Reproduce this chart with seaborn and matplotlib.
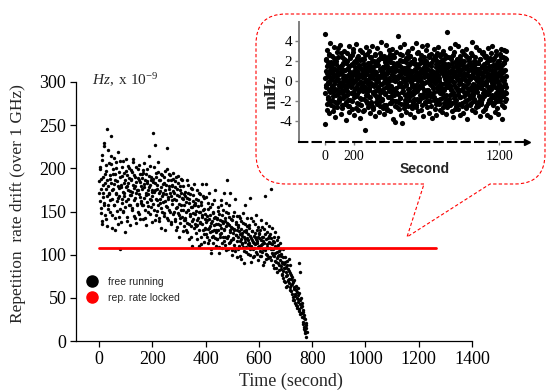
import numpy as np
import pandas as pd
import matplotlib
matplotlib.use("Agg")
import matplotlib.pyplot as plt
import seaborn as sns
from matplotlib.path import Path
from matplotlib.patches import PathPatch
from matplotlib.lines import Line2D

# ---------------- data ----------------
# free-running repetition-rate drift (Hz x 1e-9), samples at even seconds
drift = [
    185, 162, 201, 148, 176, 210, 135, 190, 172, 226, 158, 183, 197, 141, 168, 245, 180, 153, 206, 171,
    188, 163, 214, 238, 146, 175, 199, 157, 182, 128, 193, 170, 207, 151, 185, 166, 219, 177, 144, 190,
    106, 181, 160, 202, 173, 149, 195, 168, 186, 155, 211, 178, 139, 192, 165, 183, 200, 158, 174, 188,
    169, 196, 152, 181, 207, 163, 177, 142, 190, 171, 184, 158, 199, 175, 147, 186, 167, 193, 160, 180,
    176, 189, 157, 198, 166, 182, 143, 172, 194, 161, 185, 170, 150, 191, 178, 164, 203, 155, 187, 173,
    168, 241, 184, 152, 227, 175, 190, 146, 163, 181, 158, 196, 172, 139, 187, 165, 178, 154, 192, 170,
    161, 183, 148, 175, 197, 156, 170, 224, 143, 186, 164, 179, 152, 192, 168, 135, 181, 159, 174, 188,
    150, 172, 141, 185, 163, 128, 176, 155, 191, 146, 168, 137, 180, 158, 171, 144, 186, 152, 165, 133,
    157, 140, 173, 149, 126, 166, 152, 181, 135, 160, 145, 170, 120, 155, 139, 176, 148, 162, 131, 158,
    147, 133, 165, 140, 118, 156, 142, 172, 129, 150, 137, 161, 112, 146, 135, 168, 124, 153, 141, 130,
    138, 182, 121, 145, 130, 160, 117, 141, 133, 155, 106, 139, 127, 148, 122, 163, 134, 119, 144, 129,
    126, 143, 118, 151, 135, 109, 140, 124, 158, 131, 114, 146, 137, 120, 172, 128, 139, 111, 149, 133,
    186, 122, 136, 113, 144, 128, 171, 117, 132, 105, 140, 125, 119, 150, 130, 108, 138, 123, 145, 116,
    121, 134, 110, 127, 98, 142, 118, 130, 112, 125, 137, 104, 120, 158, 115, 128, 109, 133, 119, 101,
    124, 113, 131, 106, 166, 119, 110, 127, 97, 115, 122, 108, 136, 112, 118, 103, 129, 116, 94, 121,
    110, 125, 104, 117, 99, 132, 112, 107, 120, 91, 114, 168, 105, 118, 101, 126, 109, 96, 115, 122,
    108, 97, 119, 176, 102, 112, 88, 106, 99, 115, 93, 110, 85, 103, 96, 121, 90, 100, 82, 107,
    94, 83, 101, 78, 90, 73, 97, 85, 68, 92, 80, 75, 88, 64, 83, 71, 95, 67, 79, 62,
    72, 58, 66, 51, 69, 60, 47, 63, 55, 42, 59, 50, 38, 53, 45, 90, 35, 48, 80, 33,
    40, 28, 34, 20, 30, 16, 25, 12, 18, 5,
]
# free-running drift, samples at odd seconds
drift_odd = [
    172, 199, 154, 188, 139, 215, 167, 181, 229, 160, 193, 146, 176, 204, 133, 186, 158, 221, 170, 192,
    149, 183, 205, 165, 131, 194, 176, 212, 158, 187, 143, 171, 200, 162, 180, 136, 196, 168, 153, 209,
    178, 138, 191, 164, 208, 151, 183, 171, 126, 197, 162, 180, 144, 203, 175, 157, 189, 134, 169, 198,
    186, 154, 173, 211, 145, 192, 166, 180, 137, 201, 159, 175, 189, 150, 170, 204, 141, 184, 162, 193,
    158, 195, 141, 178, 206, 152, 187, 169, 134, 183, 199, 156, 175, 214, 147, 181, 163, 190, 138, 175,
    188, 159, 173, 201, 140, 183, 165, 195, 151, 176, 207, 143, 186, 160, 174, 131, 193, 168, 149, 182,
    172, 145, 190, 162, 128, 181, 155, 199, 167, 140, 176, 193, 150, 171, 186, 138, 163, 180, 147, 195,
    165, 139, 178, 154, 190, 132, 169, 148, 183, 121, 159, 175, 143, 188, 152, 166, 127, 179, 140, 170,
    143, 168, 129, 161, 186, 137, 152, 171, 118, 164, 147, 133, 177, 155, 110, 169, 141, 158, 182, 136,
    160, 125, 151, 175, 134, 163, 110, 149, 138, 170, 121, 157, 144, 182, 128, 152, 166, 115, 147, 131,
    124, 167, 140, 113, 153, 131, 171, 126, 146, 102, 137, 159, 120, 150, 113, 142, 128, 175, 135, 110,
    141, 118, 155, 128, 102, 147, 134, 120, 163, 125, 139, 108, 152, 130, 116, 143, 121, 160, 105, 137,
    119, 148, 107, 134, 157, 115, 126, 141, 100, 131, 118, 145, 111, 128, 164, 104, 123, 136, 97, 129,
    132, 107, 145, 116, 124, 139, 95, 122, 113, 148, 109, 127, 90, 135, 118, 103, 126, 143, 112, 117,
    111, 134, 100, 122, 142, 92, 117, 127, 106, 139, 113, 98, 125, 120, 146, 101, 114, 132, 109, 124,
    119, 98, 128, 111, 140, 103, 121, 88, 116, 130, 106, 124, 95, 137, 112, 100, 119, 108, 133, 97,
    113, 124, 94, 107, 131, 100, 116, 84, 120, 102, 126, 91, 109, 117, 80, 111, 98, 104, 88, 114,
    87, 99, 76, 92, 106, 81, 89, 70, 97, 84, 63, 86, 77, 93, 69, 81, 72, 88, 59, 76,
    65, 74, 55, 68, 47, 62, 71, 52, 44, 64, 57, 40, 61, 49, 37, 56, 43, 31, 50, 39,
    32, 44, 22, 36, 14, 27, 9, 21, 15, 11,
]

# locked repetition rate level
lock_t = [0, 1265]
lock_y = [108, 108]

# locked residual (mHz), samples every 2.5 s
residual = [
    4.7, -4.3, 1.0, -0.6, 2.2, -2.9, 0.4, 3.1, -1.8, 1.6, -0.2, 2.7, -3.2, 0.9, -1.1, 3.8, -2.4, 0.1, 1.9, -0.8,
    2.5, -1.5, 0.7, -3.0, 3.4, -0.3, 1.2, -2.1, 2.0, -3.6, 0.5, 1.7, -0.9, 2.9, -2.6, 0.2, -1.3, 3.3, -0.5, 1.4,
    -2.0, 0.8, 3.6, -1.0, -3.3, 1.5, -0.1, 2.4, -2.7, 0.6, 1.1, -1.7, 3.0, -0.4, 0.3, -2.3, 2.1, -3.9, 1.8, -0.7,
    0.0, 2.8, -1.4, 1.3, -2.5, 3.5, -0.2, -3.1, 0.9, 2.3, -1.9, 0.4, 1.6, -0.6, -2.8, 2.6, -1.2, 3.2, 0.1, -1.6,
    1.9, -3.4, 0.6, 2.0, -0.8, -1.5, 3.7, -2.2, 0.3, 1.0, -0.3, 2.5, -2.9, 1.4, -1.0, 0.7, 3.1, -3.7, 0.5, -0.1,
    -2.4, 1.2, 2.9, -0.5, 0.8, -3.0, 1.7, -1.8, 2.2, -4.9, 0.2, -0.9, 3.4, -2.0, 1.1, -1.3, 0.0, 2.7, -2.6, 1.5,
    3.0, -0.7, -1.6, 1.8, -3.2, 0.4, 2.4, -0.2, -2.3, 1.3, 3.5, -1.1, 0.6, -2.8, 2.0, -0.4, 1.0, -3.5, 2.6, -1.4,
    0.9, -2.1, 3.3, 0.1, -1.7, 2.1, -0.6, 1.6, -3.1, 0.5, -1.0, 2.8, -2.5, 1.2, 3.9, -0.3, -1.9, 0.7, 2.3, -2.7,
    -0.8, 1.4, -3.3, 2.5, 0.3, -1.2, 1.9, -2.4, 3.6, -0.1, 0.8, -2.9, 1.5, -0.7, 2.2, -1.6, 0.0, 3.1, -3.0, 1.1,
    2.7, -0.5, 1.3, -2.2, 0.6, 3.2, -1.4, -3.8, 1.8, -0.9, 2.4, 0.2, -2.0, 1.0, -4.1, 2.9, -1.1, 0.4, -2.6, 1.7,
    -1.3, 4.5, 0.5, -2.8, 1.6, -0.2, 2.1, -1.7, 3.4, -3.4, 0.9, -0.6, 2.6, -4.2, 1.2, -1.0, 0.3, 2.0, -2.3, 3.7,
    0.1, -1.9, 2.3, -0.4, -3.1, 1.4, 2.8, -1.5, 0.7, -2.5, 3.0, -0.8, 1.1, -3.3, 0.4, 2.5, -1.2, -0.1, 1.9, -2.7,
    3.3, -0.3, -2.1, 1.0, 0.2, -3.6, 2.2, -1.1, 1.7, -0.7, 3.8, -2.4, 0.6, 1.5, -1.8, 0.0, 2.9, -3.0, 0.8, -0.5,
    -2.0, 1.8, 0.3, -1.4, 2.6, -2.9, 0.9, 3.5, -0.6, -1.6, 1.3, -3.5, 2.0, -0.2, 0.5, -2.2, 1.6, 3.1, -1.0, 0.7,
    1.2, -2.6, 3.6, -0.9, 0.4, -1.3, 2.4, -3.2, 1.0, 0.1, -2.0, 2.7, -0.4, 1.5, -3.7, 0.8, -1.5, 2.1, -0.7, 3.2,
    -1.1, 0.6, -2.8, 2.3, -0.1, 1.7, -3.4, 0.3, 2.8, -1.9, 1.1, -0.5, 3.4, -2.3, 0.0, 1.9, -1.2, -2.9, 2.5, -0.3,
    0.9, -1.7, 2.0, -3.1, 1.3, 3.0, -0.8, 0.5, -2.2, 1.6, -0.2, 2.6, -3.3, 0.7, -1.4, 4.9, 0.2, -2.6, 1.4, -0.6,
    2.4, -0.4, -1.8, 0.8, 3.3, -2.4, 1.0, -0.9, 2.2, -3.0, 0.4, 1.8, -1.3, -3.6, 2.9, -0.1, 0.6, -2.1, 3.7, -1.5,
    -0.7, 1.5, -2.5, 0.3, 2.1, -1.0, 3.5, -2.8, 0.9, -0.3, 1.2, -3.4, 2.5, -1.6, 0.1, 1.7, -2.2, 3.0, -0.8, 0.5,
    1.9, -3.2, 0.7, -1.1, 2.7, -0.5, 1.4, -2.7, 0.0, 3.2, -1.9, 0.6, -3.8, 2.3, -0.2, 1.1, -1.4, 2.0, -2.4, 0.3,
    -1.6, 2.8, -0.6, 1.3, -2.9, 0.4, 3.9, -1.2, 0.8, -2.0, 1.6, -0.4, 2.4, -3.1, 1.0, -0.9, 0.2, 3.4, -2.3, 1.2,
    0.6, -2.5, 1.8, -0.1, -1.5, 3.1, -3.5, 0.9, 2.2, -0.7, -2.1, 1.4, 0.3, -1.8, 2.9, -3.0, 0.5, 1.7, -0.3, 2.6,
    -2.8, 1.1, 0.0, 2.5, -1.3, -3.4, 1.9, -0.5, 3.3, -2.2, 0.7, 1.5, -1.0, 2.1, -3.6, 0.4, -0.8, 2.8, -1.7, 1.0,
    3.5, -0.2, -2.4, 1.6, 0.2, -1.6, 2.3, -3.1, 0.8, -0.6, 3.0, -1.9, 1.3, -2.7, 0.5, 2.0, -0.9, -3.3, 1.7, -0.4,
    0.9, -2.0, 2.7, -1.2, 3.2, -0.7, 1.1, -3.8, 0.4, 2.4, -1.5, 0.0, 3.1, -2.6, 1.8, -0.3, -1.1, 2.2, -1.8, 3.0,
]
# locked residual (mHz), samples offset by 1.25 s
residual_mid = [
    0.3, -1.2, 2.1, -0.4, 1.5, -2.3, 0.8, -0.1, 1.9, -1.6, 0.5, 2.6, -0.9, 1.1, -2.0, 0.2, -0.7, 1.4, -1.9, 0.9,
    -0.5, 1.7, -1.1, 0.4, 2.3, -2.6, 0.0, 1.2, -0.8, 2.0, -1.4, 0.6, -2.2, 1.0, 0.1, -1.0, 2.4, -0.3, 0.7, -1.8,
    1.3, -0.2, -1.7, 0.9, 2.8, -0.6, 1.6, -2.4, 0.3, -1.3, 1.8, 0.0, -0.9, 2.2, -1.5, 0.5, 1.1, -2.1, 0.4, -0.4,
    -1.0, 2.0, 0.6, -1.9, 1.2, -0.3, -2.5, 1.5, 0.2, 2.5, -1.2, 0.8, -0.5, 1.7, -2.0, 0.1, 2.9, -1.1, -0.2, 1.0,
    0.7, -1.5, 1.4, 0.0, -2.7, 1.9, -0.6, 0.9, -1.3, 2.3, 0.3, -0.8, 1.6, -2.3, 0.6, -0.1, 2.1, -1.7, 1.2, -0.7,
    -1.8, 0.4, 2.2, -1.0, 0.8, -0.2, 1.7, -2.9, 0.5, 1.3, -0.6, 2.6, -1.4, 0.0, 1.0, -2.2, 0.7, -0.9, 1.8, -0.3,
    1.1, -0.9, 0.2, 2.4, -1.6, 0.6, -2.1, 1.4, -0.4, 0.9, 2.0, -1.2, 0.3, -2.6, 1.5, -0.5, 0.8, 2.7, -1.0, 0.1,
    -0.2, 1.6, -2.3, 0.5, 1.9, -0.7, 0.0, -1.5, 2.2, -0.9, 1.2, -2.0, 0.4, 1.0, -1.1, 2.5, -0.3, -1.8, 0.7, 1.4,
    0.9, -0.1, 1.3, -2.4, 0.6, 2.1, -1.3, 0.2, -0.6, 1.7, -2.8, 0.8, 1.1, -0.4, 2.4, -1.6, 0.3, -1.0, 1.9, -2.2,
    -0.6, 2.3, -1.0, 0.7, -1.9, 1.0, 0.1, -0.8, 2.6, -1.4, 0.5, 1.5, -2.5, 0.0, 1.2, -0.7, -2.0, 1.8, 0.4, -1.2,
    1.6, -2.1, 0.3, 1.0, -0.5, 2.7, -1.7, 0.6, -0.2, 1.4, -2.3, 0.9, 2.0, -1.1, 0.2, -0.6, 1.3, -2.7, 0.8, 0.0,
    -1.4, 0.8, 1.9, -0.3, -2.2, 1.1, 0.4, -1.2, 2.3, -0.8, 0.1, 1.6, -1.9, 0.7, 2.5, -1.5, 0.0, 1.0, -0.5, -2.4,
    0.5, 1.8, -1.3, 0.2, 2.1, -0.9, -1.8, 1.2, 0.6, -2.6, 1.7, -0.4, 0.9, -1.0, 2.8, -2.0, 0.3, 1.4, -0.7, 0.6,
    2.2, -0.6, 0.7, -1.7, 1.1, 0.0, -2.4, 1.9, -0.2, 1.0, -1.3, 2.4, -0.9, 0.4, -2.1, 1.3, 0.8, -1.6, 2.0, -0.1,
    -0.9, 1.2, -2.0, 0.6, 1.7, -1.1, 0.2, 2.6, -1.5, 0.5, -0.3, 1.8, -2.5, 1.0, 0.1, -1.4, 2.2, -0.6, 0.9, -1.9,
    0.4, -1.6, 2.5, -0.2, 0.9, -2.3, 1.4, -0.7, 0.0, 2.0, -1.0, 0.6, 1.5, -2.2, 0.3, 1.1, -0.5, -1.8, 2.7, -0.8,
    1.5, -0.3, -1.2, 2.1, -2.6, 0.7, 1.0, -0.9, 1.8, -1.5, 0.2, 2.3, -0.6, -1.9, 1.3, 0.5, -2.4, 0.9, -0.1, 1.7,
    -2.1, 0.9, 1.6, -0.5, 0.3, -1.4, 2.4, -0.8, 1.1, -2.2, 0.0, 1.4, -1.1, 2.6, -0.4, 0.7, -1.7, 1.9, -2.8, 0.4,
    1.0, -1.9, 0.5, 2.2, -0.7, -1.3, 1.5, 0.1, -2.3, 1.8, -0.2, 0.8, -1.6, 2.1, 0.6, -0.9, 1.2, -2.5, 0.3, 1.6,
    -0.4, 2.0, -1.5, 0.8, 1.3, -2.0, 0.2, -0.6, 2.5, -1.2, 0.7, -2.4, 1.6, 0.0, -1.0, 2.3, -0.8, 1.1, -1.7, 0.5,
    0.2, -2.2, 1.7, -0.9, 0.6, 2.6, -1.4, 1.0, -0.3, -1.8, 2.0, 0.4, -0.7, 1.3, -2.6, 0.9, 1.9, -1.1, 0.0, -0.5,
    1.8, -0.6, 0.3, -2.0, 1.2, -0.1, 2.2, -1.6, 0.8, 0.0, -2.3, 1.5, -0.4, 2.8, -1.2, 0.5, -0.9, 1.0, -1.5, 2.4,
    -1.1, 1.4, -0.2, 0.9, -2.5, 1.9, 0.4, -1.3, 0.7, 2.1, -0.8, -1.9, 1.2, 0.1, -0.6, 2.3, -2.1, 0.6, 1.5, -1.4,
    0.6, -0.4, 2.1, -1.6, 0.3, 1.1, -2.2, 0.8, -0.1, 1.7, -1.2, 2.6, -0.7, 0.4, -2.0, 1.4, 0.0, -1.5, 2.0, -0.3,
    -1.7, 0.7, 1.3, -0.8, 2.4, -1.0, 0.2, -2.4, 1.6, -0.5, 0.9, 1.9, -1.3, 0.1, -2.0, 1.1, 2.3, -0.6, 0.5, -1.2,
]

main_xticks = [0, 200, 400, 600, 800, 1000, 1200, 1400]
main_yticks = [0, 50, 100, 150, 200, 250, 300]
inset_xticks = [0, 200, 1200]
inset_yticks = [-4, -2, 0, 2, 4]
legend_labels = ["free running", "rep. rate locked"]

# ---------------- style ----------------
sns.set_style("ticks")
plt.rcParams["font.family"] = ["Liberation Serif", "DejaVu Serif"]
plt.rcParams["mathtext.fontset"] = "custom"
plt.rcParams["mathtext.rm"] = "Liberation Serif"
plt.rcParams["mathtext.it"] = "Liberation Serif:italic"
plt.rcParams["axes.unicode_minus"] = False

W, H = 547, 390
fig = plt.figure(figsize=(W / 100, H / 100), dpi=100)

# ---------------- main axes ----------------
ax = fig.add_axes([76 / W, 49 / H, 396 / W, 259 / H])
free = pd.DataFrame({
    "t": np.concatenate([np.arange(len(drift)) * 2, np.arange(len(drift_odd)) * 2 + 1]),
    "drift": drift + drift_odd,
})
sns.scatterplot(data=free, x="t", y="drift", ax=ax, color="black", s=6,
                linewidth=0, legend=False, zorder=2)
sns.lineplot(x=lock_t, y=lock_y, ax=ax, color="red", linewidth=2, zorder=3)
ax.set_xlim(-87, 1400)
ax.set_ylim(0, 300)
ax.set_xticks(main_xticks)
ax.set_yticks(main_yticks)
ax.set_xlabel("")
ax.set_ylabel("")
sns.despine(ax=ax)
for s in ["left", "bottom"]:
    ax.spines[s].set_color("black")
    ax.spines[s].set_linewidth(0.9)
ax.tick_params(direction="out", length=4, width=0.9, labelsize=13,
               colors="black", pad=3)

fig.text(291 / W, 1 - 381 / H, "Time (second)", ha="center", va="center",
         fontsize=13)
fig.text(18 / W, 1 - 204 / H, "Repetition  rate drift (over 1 GHz)",
         rotation=90, ha="center", va="center", fontsize=12.5)
fig.text(92 / W, 1 - 80 / H, r"$\mathit{Hz},\ \mathrm{x}\ 10^{-9}$",
         ha="left", va="center", fontsize=11)

handles = [
    Line2D([], [], marker="o", linestyle="", color="black", markersize=8),
    Line2D([], [], marker="o", linestyle="", color="red", markersize=8),
]
ax.legend(handles, legend_labels, loc="center left",
          bbox_to_anchor=(86.8 / W, 1 - 290 / H), bbox_transform=fig.transFigure,
          frameon=False, borderpad=0, borderaxespad=0, handlelength=1.0,
          handletextpad=1.0, labelspacing=0.55,
          prop={"family": "Liberation Sans", "size": 7.5})

# ---------------- callout bubble ----------------
bg = fig.add_axes([0, 0, 1, 1], zorder=5)
bg.set_xlim(0, W)
bg.set_ylim(H, 0)
bg.axis("off")
bg.patch.set_alpha(0)
L, R, T, B, r = 256, 545, 14, 184, 30
verts = [
    (424, B), (L + r, B), (L, B), (L, B - r), (L, T + r), (L, T), (L + r, T),
    (R - r, T), (R, T), (R, T + r), (R, B - r), (R, B), (R - r, B),
    (490, B), (407, 237), (424, B),
]
codes = [
    Path.MOVETO, Path.LINETO, Path.CURVE3, Path.CURVE3, Path.LINETO,
    Path.CURVE3, Path.CURVE3, Path.LINETO, Path.CURVE3, Path.CURVE3,
    Path.LINETO, Path.CURVE3, Path.CURVE3, Path.LINETO, Path.LINETO,
    Path.LINETO,
]
bubble = PathPatch(Path(verts, codes), facecolor="none", edgecolor="red",
                   linewidth=0.8, linestyle=(0, (3, 2)))
bg.add_patch(bubble)

# ---------------- inset axes ----------------
axi = fig.add_axes([299 / W, (H - 141.7) / H, 228 / W, 120 / H], zorder=6)
axi.patch.set_alpha(0)
locked = pd.DataFrame({
    "t": np.concatenate([np.arange(len(residual)) * 2.5,
                         np.arange(len(residual_mid)) * 2.5 + 1.25]),
    "mhz": residual + residual_mid,
})
sns.scatterplot(data=locked, x="t", y="mhz", ax=axi, color="black", s=14,
                linewidth=0, legend=False)
axi.set_xlim(-178, 1390)
axi.set_ylim(-6.1, 5.9)
axi.set_xticks(inset_xticks)
axi.set_yticks(inset_yticks)
axi.set_xlabel("")
axi.set_ylabel("")
axi.spines["top"].set_visible(False)
axi.spines["right"].set_visible(False)
axi.spines["left"].set_color("#7f7f7f")
axi.spines["left"].set_linewidth(1.4)
axi.spines["bottom"].set_color("black")
axi.spines["bottom"].set_linewidth(1.5)
axi.spines["bottom"].set_linestyle((0, (4, 2.5)))
axi.plot([1], [0], marker=">", color="black", markersize=5,
         transform=axi.transAxes, clip_on=False)
axi.tick_params(axis="y", direction="out", length=3, width=1, colors="#7f7f7f",
                labelcolor="black", labelsize=11, pad=2)
axi.tick_params(axis="x", direction="out", length=2, width=1, colors="#7f7f7f",
                labelcolor="black", labelsize=10, pad=4)

fig.text(272 / W, 1 - 92 / H, "mHz", rotation=90, ha="center", va="center",
         fontsize=12, fontweight="bold")
fig.text(425 / W, 1 - 169 / H, "Second", ha="center", va="center",
         fontsize=10, fontweight="bold", family="Liberation Sans")

fig.savefig("out.png", dpi=100)
